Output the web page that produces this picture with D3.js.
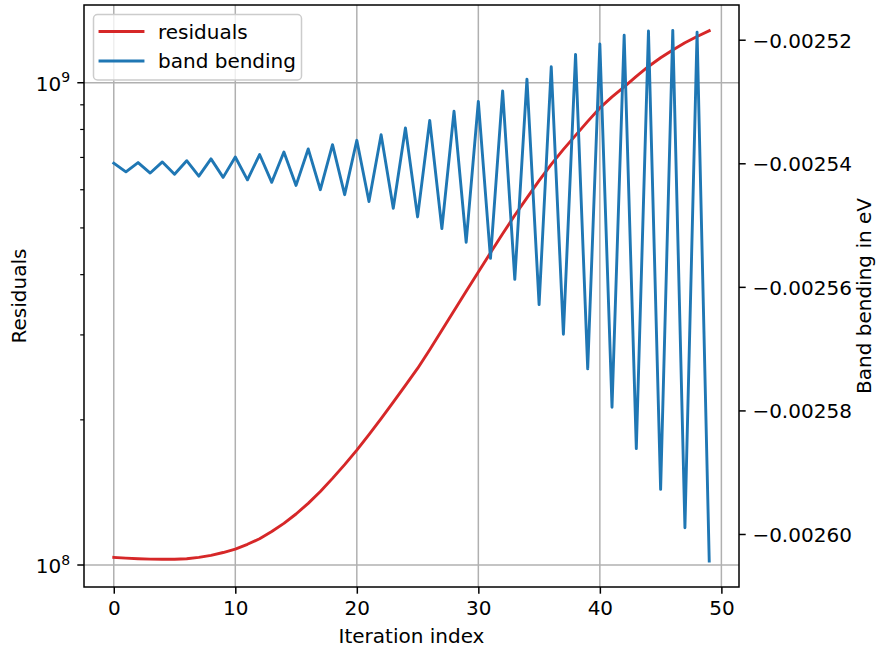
<!DOCTYPE html>
<html>
<head>
<meta charset="utf-8">
<script src="https://cdn.jsdelivr.net/npm/d3@7/dist/d3.min.js"></script>
<style>
  html, body { margin: 0; padding: 0; background: #ffffff; }
  svg { display: block; }
  text { font-family: "DejaVu Sans", sans-serif; fill: #000; }
</style>
</head>
<body>
<svg id="chart" width="880" height="651"></svg>
<script>
// Iteration indices 0..49
const iterations = d3.range(0, 50);

// Residual norm per iteration (left, log axis)
const residuals = [
  1.037e8, 1.0335e8, 1.0305e8, 1.0285e8, 1.0276e8, 1.0281e8, 1.0305e8, 1.0374e8, 1.0474e8, 1.0614e8,
  1.0793e8, 1.1039e8, 1.1337e8, 1.1733e8, 1.2201e8, 1.2757e8, 1.3424e8, 1.4202e8, 1.5122e8, 1.6148e8,
  1.7303e8, 1.8635e8, 2.0115e8, 2.1763e8, 2.3584e8, 2.5562e8, 2.7956e8, 3.0687e8, 3.3673e8, 3.6951e8,
  4.0512e8, 4.4398e8, 4.8610e8, 5.3113e8, 5.7730e8, 6.2657e8, 6.7713e8, 7.2746e8, 7.7770e8, 8.3145e8,
  8.8673e8, 9.3454e8, 9.8017e8, 1.0305e9, 1.0808e9, 1.1267e9, 1.1697e9, 1.2106e9, 1.2473e9, 1.2817e9
];

// Band bending per iteration in eV (right, linear axis)
const bandBending = [
  -0.0025399, -0.0025413, -0.0025398, -0.0025415, -0.0025397, -0.0025417, -0.0025395, -0.0025420, -0.0025392, -0.0025422,
  -0.0025389, -0.0025426, -0.0025385, -0.0025430, -0.0025381, -0.0025435, -0.0025376, -0.0025442, -0.0025369, -0.0025450,
  -0.0025362, -0.0025461, -0.0025353, -0.0025472, -0.0025342, -0.0025486, -0.0025330, -0.0025505, -0.0025315, -0.0025527,
  -0.0025299, -0.0025553, -0.0025282, -0.0025587, -0.0025263, -0.0025628, -0.0025243, -0.0025676, -0.0025223, -0.0025732,
  -0.0025206, -0.0025794, -0.0025192, -0.0025861, -0.0025185, -0.0025927, -0.0025184, -0.0025989, -0.0025187, -0.0026043
];

// Tick values
const xTicks = [0, 10, 20, 30, 40, 50];
const leftMajorTicks = [1e8, 1e9];
const leftMinorTicks = [2e8, 3e8, 4e8, 5e8, 6e8, 7e8, 8e8, 9e8];
const rightTicks = [-0.00252, -0.00254, -0.00256, -0.00258, -0.00260];

// Series labels and colours
const seriesNames = ["residuals", "band bending"];
const seriesColors = ["#d62728", "#1f77b4"];

// Layout
const margin = { left: 84, top: 5, right: 141, bottom: 64 };
const W = 880, H = 651;
const pw = W - margin.left - margin.right;
const ph = H - margin.top - margin.bottom;
const fontPx = 20;
const majorLen = 6.7, minorLen = 3.8, pad = 6.7;

const svg = d3.select("#chart");
const g = svg.append("g").attr("transform", `translate(${margin.left},${margin.top})`);

// Scales (axis limits include a 5% margin around the data)
const x = d3.scaleLinear().domain([-2.45, 51.45]).range([0, pw]);
const yL = d3.scaleLog().domain([Math.pow(10, 7.9544), Math.pow(10, 9.1612)]).range([ph, 0]);
const yR = d3.scaleLinear().domain([-0.0026085, -0.0025143]).range([ph, 0]);

// Grid lines
const grid = g.append("g").attr("stroke", "#b0b0b0").attr("stroke-width", 1.5);
xTicks.forEach(t => {
  grid.append("line").attr("x1", x(t)).attr("x2", x(t)).attr("y1", 0).attr("y2", ph);
});
leftMajorTicks.forEach(t => {
  grid.append("line").attr("x1", 0).attr("x2", pw).attr("y1", yL(t)).attr("y2", yL(t));
});

// Clip lines to the plotting area
svg.append("defs").append("clipPath").attr("id", "plotClip")
  .append("rect").attr("x", 0).attr("y", 0).attr("width", pw).attr("height", ph);

const plot = g.append("g").attr("clip-path", "url(#plotClip)");

const resLine = d3.line().x((d, i) => x(iterations[i])).y(d => yL(d));
const bbLine = d3.line().x((d, i) => x(iterations[i])).y(d => yR(d));

plot.append("path").datum(residuals)
  .attr("d", resLine).attr("fill", "none")
  .attr("stroke", seriesColors[0]).attr("stroke-width", 2.9)
  .attr("stroke-linejoin", "round").attr("stroke-linecap", "square");

plot.append("path").datum(bandBending)
  .attr("d", bbLine).attr("fill", "none")
  .attr("stroke", seriesColors[1]).attr("stroke-width", 2.9)
  .attr("stroke-linejoin", "round").attr("stroke-linecap", "square");

// Bottom axis
const xAxis = d3.axisBottom(x).tickValues(xTicks).tickSize(majorLen).tickPadding(pad)
  .tickFormat(d3.format("d"));
const gx = g.append("g").attr("transform", `translate(0,${ph})`).call(xAxis);
gx.select(".domain").remove();
gx.selectAll(".tick line").attr("stroke", "#000").attr("stroke-width", 1.5);
gx.selectAll(".tick text").attr("font-size", fontPx).attr("font-family", "DejaVu Sans")
  .attr("fill", "#000").attr("dy", null).attr("y", 28);

// Left axis: major ticks with power-of-ten labels, unlabelled minor ticks
const gl = g.append("g");
leftMinorTicks.forEach(t => {
  gl.append("line").attr("x1", -minorLen).attr("x2", 0).attr("y1", yL(t)).attr("y2", yL(t))
    .attr("stroke", "#000").attr("stroke-width", 1.2);
});
leftMajorTicks.forEach(t => {
  const yy = yL(t);
  gl.append("line").attr("x1", -majorLen).attr("x2", 0).attr("y1", yy).attr("y2", yy)
    .attr("stroke", "#000").attr("stroke-width", 1.5);
  const exp = Math.round(Math.log10(t));
  const txt = gl.append("text").attr("x", -majorLen - pad - 0.5).attr("y", yy + 8)
    .attr("text-anchor", "end").attr("font-size", fontPx);
  txt.append("tspan").text("10");
  txt.append("tspan").attr("font-size", 14).attr("dy", -8.5).text(exp);
});

// Right axis
const rightFmt = v => (v < 0 ? "\u2212" : "") + Math.abs(v).toFixed(5);
const gr = g.append("g").attr("transform", `translate(${pw},0)`);
rightTicks.forEach(t => {
  const yy = yR(t);
  gr.append("line").attr("x1", 0).attr("x2", majorLen).attr("y1", yy).attr("y2", yy)
    .attr("stroke", "#000").attr("stroke-width", 1.5);
  gr.append("text").attr("x", majorLen + pad).attr("y", yy + 7.5)
    .attr("font-size", fontPx).text(rightFmt(t));
});

// Frame
g.append("rect").attr("x", 0).attr("y", 0).attr("width", pw).attr("height", ph)
  .attr("fill", "none").attr("stroke", "#000").attr("stroke-width", 1.5);

// Axis titles
svg.append("text").attr("x", margin.left + pw / 2).attr("y", 643)
  .attr("text-anchor", "middle").attr("font-size", fontPx).text("Iteration index");
svg.append("text").attr("transform", `translate(26,${margin.top + ph / 2}) rotate(-90)`)
  .attr("text-anchor", "middle").attr("font-size", fontPx).text("Residuals");
svg.append("text").attr("transform", `translate(871,${margin.top + ph / 2}) rotate(-90)`)
  .attr("text-anchor", "middle").attr("font-size", fontPx).text("Band bending in eV");

// Legend
const lg = svg.append("g");
lg.append("rect").attr("x", 93.5).attr("y", 14.5).attr("width", 208).attr("height", 65.5)
  .attr("rx", 4).attr("ry", 4)
  .attr("fill", "#ffffff").attr("fill-opacity", 0.8)
  .attr("stroke", "#cccccc").attr("stroke-width", 1.5);
seriesNames.forEach((name, i) => {
  const yy = 31.5 + i * 29.5;
  lg.append("line").attr("x1", 100).attr("x2", 143).attr("y1", yy).attr("y2", yy)
    .attr("stroke", seriesColors[i]).attr("stroke-width", 2.9).attr("stroke-linecap", "square");
  lg.append("text").attr("x", 158).attr("y", yy + 7).attr("font-size", fontPx).text(name);
});
</script>
</body>
</html>
